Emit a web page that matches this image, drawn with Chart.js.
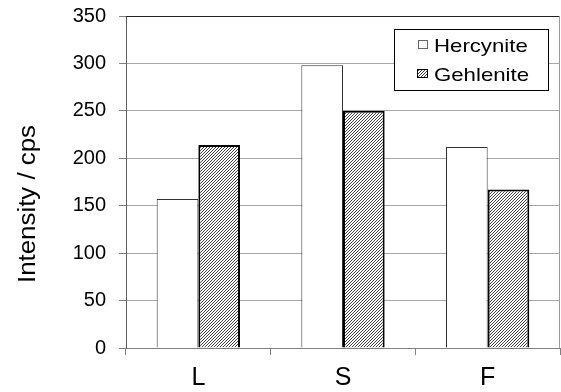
<!DOCTYPE html>
<html>
<head>
<meta charset="utf-8">
<script src="https://cdn.jsdelivr.net/npm/chart.js@4/dist/chart.umd.min.js"></script>
<style>
  html, body { margin: 0; padding: 0; background: #fff; }
  #wrap { width: 561px; height: 392px; }
</style>
</head>
<body>
<div id="wrap"><canvas id="c" width="561" height="392"></canvas></div>
<script>
// Sample groups and measured intensities
const categories = ['L', 'S', 'F'];
const hercynite = [157, 298, 212];
const gehlenite = [214, 250, 167];
const yTicks = [0, 50, 100, 150, 200, 250, 300, 350];
const seriesNames = ['Hercynite', 'Gehlenite'];
const yTitle = 'Intensity / cps';

const FONT = '"Liberation Sans", Arial, Helvetica, sans-serif';
Chart.defaults.font.family = FONT;
Chart.defaults.color = '#000';

const canvas = document.getElementById('c');
const ctx = canvas.getContext('2d');

// Diagonal hatch fill for the second series
function makeHatch() {
  const t = document.createElement('canvas');
  t.width = 3; t.height = 3;
  const g = t.getContext('2d');
  g.fillStyle = '#fff';
  g.fillRect(0, 0, 3, 3);
  g.fillStyle = '#444';
  g.fillRect(2, 0, 1, 1);
  g.fillRect(1, 1, 1, 1);
  g.fillRect(0, 2, 1, 1);
  return ctx.createPattern(t, 'repeat');
}
const hatch = makeHatch();

// Frame lines, rotated axis title and boxed legend
const decorations = {
  id: 'decorations',
  afterDatasetsDraw(chart) {
    const { ctx, chartArea: a } = chart;
    ctx.save();
    ctx.lineWidth = 1;
    ctx.strokeStyle = '#222';
    ctx.beginPath();
    ctx.moveTo(a.left, Math.round(a.top) + 0.5);
    ctx.lineTo(a.right, Math.round(a.top) + 0.5);
    ctx.stroke();
    ctx.strokeStyle = '#9a9a9a';
    ctx.beginPath();
    ctx.moveTo(Math.round(a.right) - 0.5, a.top);
    ctx.lineTo(Math.round(a.right) - 0.5, a.bottom);
    ctx.stroke();
    ctx.restore();
  },
  afterDraw(chart) {
    const { ctx } = chart;
    // y-axis title
    ctx.save();
    ctx.fillStyle = '#000';
    ctx.font = '23.5px ' + FONT;
    ctx.translate(35, 204);
    ctx.rotate(-Math.PI / 2);
    ctx.scale(1.1, 1);
    ctx.textAlign = 'center';
    ctx.textBaseline = 'alphabetic';
    ctx.fillText(yTitle, 0, 0);
    ctx.restore();

    // legend box
    const ds = chart.data.datasets;
    ctx.save();
    ctx.fillStyle = '#fff';
    ctx.fillRect(394.5, 29.5, 154, 61);
    ctx.strokeStyle = '#000';
    ctx.lineWidth = 1;
    ctx.strokeRect(394.5, 29.5, 154, 61);
    const rows = [
      { box: [418.5, 40.5, 9, 8], base: 51.5 },
      { box: [417.5, 69.5, 10, 8], base: 81 }
    ];
    rows.forEach((r, i) => {
      const d = ds[i];
      ctx.fillStyle = d.backgroundColor;
      ctx.fillRect(r.box[0], r.box[1], r.box[2], r.box[3]);
      ctx.strokeStyle = i === 0 ? '#666' : '#000';
      ctx.lineWidth = 1;
      ctx.strokeRect(r.box[0], r.box[1], r.box[2], r.box[3]);
      ctx.save();
      ctx.fillStyle = '#000';
      ctx.font = '18.5px ' + FONT;
      ctx.textBaseline = 'alphabetic';
      ctx.translate(434, r.base);
      ctx.scale(1.2, 1);
      ctx.fillText(d.label, 0, 0);
      ctx.restore();
    });
    ctx.restore();
  }
};

new Chart(ctx, {
  type: 'bar',
  data: {
    labels: categories,
    datasets: [
      {
        label: seriesNames[0],
        data: hercynite,
        backgroundColor: '#ffffff',
        borderColor: '#333',
        borderWidth: 1,
        categoryPercentage: 0.576,
        barPercentage: 1
      },
      {
        label: seriesNames[1],
        data: gehlenite,
        backgroundColor: hatch,
        borderColor: '#000',
        borderWidth: 2,
        categoryPercentage: 0.576,
        barPercentage: 1
      }
    ]
  },
  options: {
    responsive: false,
    animation: false,
    events: [],
    layout: { padding: { top: 16, right: 1, left: 0, bottom: 0 } },
    plugins: {
      legend: { display: false },
      tooltip: { enabled: false }
    },
    scales: {
      x: {
        afterFit(s) {
          s.height = 44;
          s.paddingLeft = 0; s.paddingRight = 0;
          s.paddingTop = 0; s.paddingBottom = 0;
        },
        grid: {
          drawOnChartArea: false,
          drawTicks: true,
          tickLength: 7,
          color: '#808080',
          offset: true
        },
        border: { display: true, color: '#808080', width: 1 },
        ticks: { font: { size: 25 }, padding: 8, color: '#000' }
      },
      y: {
        min: 0,
        max: 350,
        afterFit(s) {
          s.width = 126;
          s.paddingTop = 0; s.paddingBottom = 0;
          s.paddingLeft = 0; s.paddingRight = 0;
        },
        afterBuildTicks(s) { s.ticks = yTicks.map(v => ({ value: v })); },
        grid: {
          color: '#a8a8a8',
          tickColor: '#808080',
          tickLength: 7,
          drawTicks: true
        },
        border: { display: true, color: '#606060', width: 1 },
        ticks: { font: { size: 20 }, padding: 13, color: '#000' }
      }
    }
  },
  plugins: [decorations]
});
</script>
</body>
</html>
